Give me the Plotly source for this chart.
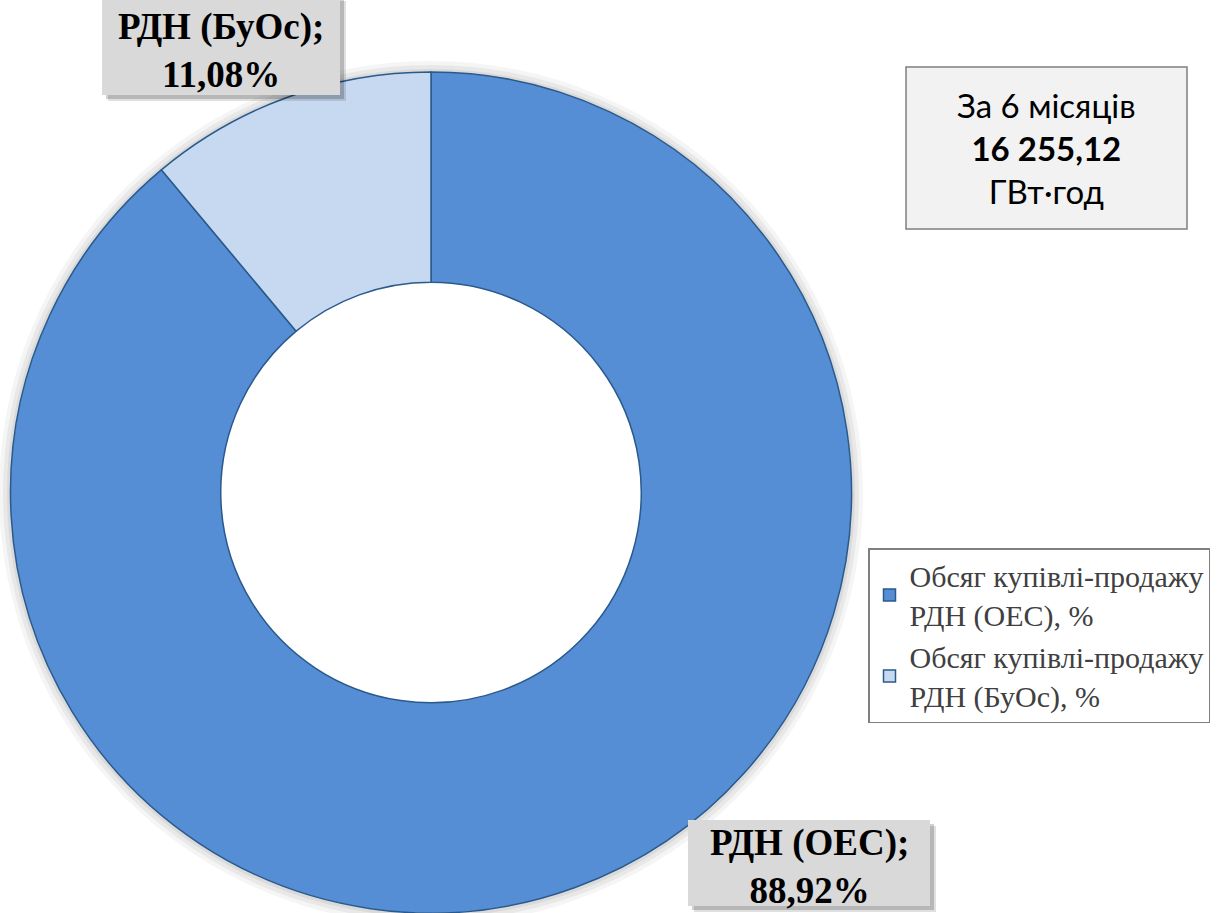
import plotly.graph_objects as go

W, H = 1222, 913

labels = ["Обсяг купівлі-продажу<br>РДН (ОЕС), %", "Обсяг купівлі-продажу<br>РДН (БуОс), %"]
values = [88.92, 11.08]
colors = ["#558ED5", "#C6D9F1"]
box_labels = ["РДН (ОЕС);<br>88,92%", "РДН (БуОс);<br>11,08%"]
note_lines = ["За 6 місяців", "<b>16 255,12</b>", "ГВт·год"]


def px(x):
    return x / W


def py(y):
    return 1 - y / H


fig = go.Figure()

fig.add_trace(go.Pie(
    labels=labels,
    values=values,
    hole=0.5,
    sort=False,
    direction="clockwise",
    rotation=0,
    marker=dict(colors=colors, line=dict(color="#2A5A8C", width=1.5)),
    textinfo="none",
    hoverinfo="label+percent",
    domain=dict(x=[px(10), px(852)], y=[0, py(72)]),
))

shapes = []

# soft glow around the ring, hole kept white
cx, cy = 431, 493
for r, a, c in [(432, 0.04, "0,0,0"), (428, 0.05, "0,0,0"), (424, 0.06, "0,0,0"), (212, 1, "255,255,255")]:
    shapes.append(dict(type="circle", xref="paper", yref="paper",
                       x0=px(cx - r), x1=px(cx + r), y0=py(cy + r), y1=py(cy - r),
                       fillcolor="rgba(%s,%s)" % (c, a), line=dict(width=0), layer="below"))


def label_box(x0, y0, x1, y1):
    # shadow then grey box
    for d, a in [(6, 0.12), (4, 0.18)]:
        shapes.append(dict(type="rect", xref="paper", yref="paper",
                           x0=px(x0 + d), x1=px(x1 + d), y0=py(y1 + d), y1=py(y0 + d),
                           fillcolor="rgba(0,0,0,%s)" % a, line=dict(width=0), layer="above"))
    shapes.append(dict(type="rect", xref="paper", yref="paper",
                       x0=px(x0), x1=px(x1), y0=py(y1), y1=py(y0),
                       fillcolor="#D9D9D9", line=dict(width=0), layer="above"))


label_box(102, -5, 340, 95)
label_box(688, 820, 930, 906)

# note box
shapes.append(dict(type="rect", xref="paper", yref="paper",
                   x0=px(906), x1=px(1187), y0=py(229), y1=py(67),
                   fillcolor="#F2F2F2", line=dict(color="#7F7F7F", width=1.5), layer="above"))

fig.update_layout(shapes=shapes)

serif = "Liberation Serif"

fig.add_annotation(x=px(221), y=py(50), xref="paper", yref="paper",
                   xanchor="center", yanchor="middle",
                   text="<b>" + box_labels[1] + "</b>", showarrow=False,
                   font=dict(family=serif, size=37, color="#000000"))
fig.add_annotation(x=px(809), y=py(866), xref="paper", yref="paper",
                   xanchor="center", yanchor="middle",
                   text="<b>" + box_labels[0] + "</b>", showarrow=False,
                   font=dict(family=serif, size=37, color="#000000"))

fig.add_annotation(x=px(1046), y=py(148), xref="paper", yref="paper",
                   xanchor="center", yanchor="middle",
                   text="<br>".join(note_lines), showarrow=False,
                   font=dict(family="Lato", size=33, color="#000000"))

fig.update_layout(
    width=W, height=H,
    margin=dict(l=0, r=0, t=0, b=0),
    paper_bgcolor="white",
    plot_bgcolor="white",
    showlegend=True,
    legend=dict(
        x=px(868), y=py(548), xanchor="left", yanchor="top",
        bgcolor="white", bordercolor="#7F7F7F", borderwidth=1.5,
        font=dict(family=serif, size=30, color="#404040"),
        itemwidth=30, tracegroupgap=10,
    ),
)

fig.write_html("out.html", config={"displayModeBar": False},
               post_script="document.body.style.margin='0';")
